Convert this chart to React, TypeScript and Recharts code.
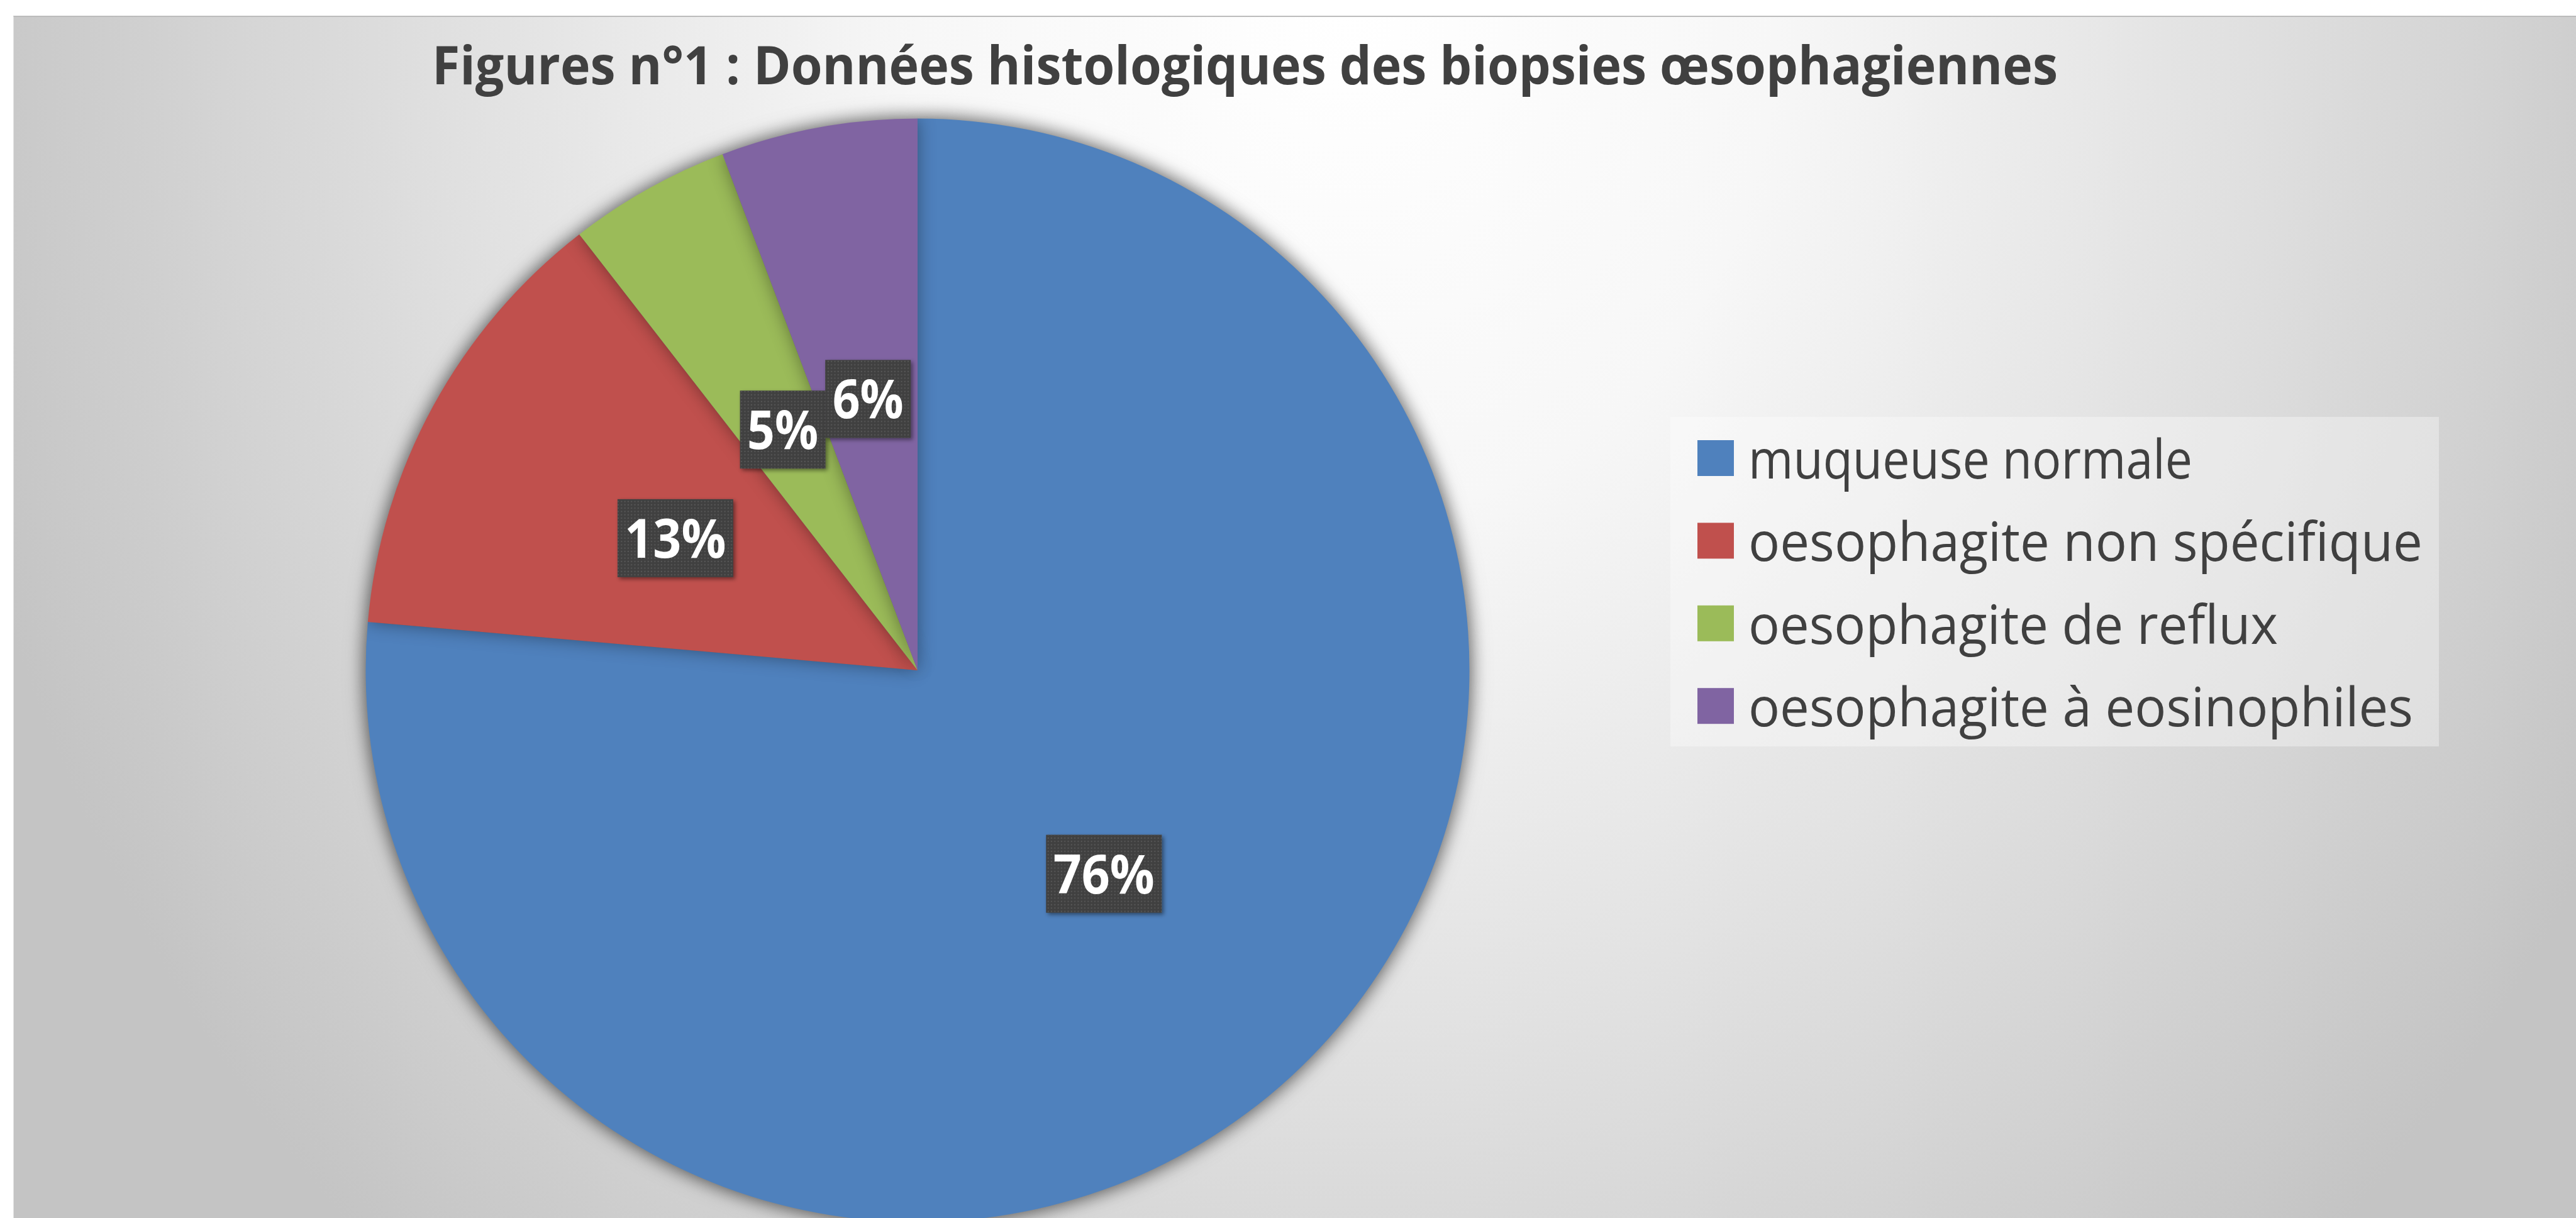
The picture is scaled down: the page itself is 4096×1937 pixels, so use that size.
import React from 'react';
import { PieChart, Pie, Cell, Legend } from 'recharts';

const title = 'Figures n°1 : Données histologiques des biopsies œsophagiennes';
const categories = [
  'muqueuse normale',
  'oesophagite non spécifique',
  'oesophagite de reflux',
  'oesophagite à eosinophiles',
];
const values = [76.4, 13.1, 4.75, 5.75];
const colors = ['#4F81BD', '#C0504D', '#9BBB59', '#8064A2'];
const legendTextWidths = [706, 1072, 842, 1057];

const data = categories.map((name, i) => ({ name, value: values[i] }));

const RAD = Math.PI / 180;
const FONT = "'Open Sans', 'Noto Sans', sans-serif";

function renderLabel(props: any) {
  const { cx, cy, midAngle, outerRadius, percent, index } = props;
  const r = outerRadius * 0.5;
  const x = cx + r * Math.cos(-midAngle * RAD);
  const y = cy + r * Math.sin(-midAngle * RAD);
  const text = `${Math.round(percent * 100)}%`;
  const wide = text.length > 2;
  const w = wide ? 184 : 136;
  const h = 124;
  const tl = wide ? 161 : 113;
  return (
    <g key={`lbl-${index}`}>
      <rect x={x - w / 2} y={y - h / 2} width={w} height={h} fill="#404040" filter="url(#lblShadow)" />
      <rect x={x - w / 2} y={y - h / 2} width={w} height={h} fill="url(#dots)" />
      <text
        x={x}
        y={y + 31}
        textAnchor="middle"
        textLength={tl}
        lengthAdjust="spacingAndGlyphs"
        fill="#ffffff"
        fontFamily={FONT}
        fontWeight={700}
        fontSize={86}
      >
        {text}
      </text>
    </g>
  );
}

const LEG_W = 1222;
const LEG_H = 524;
const LEG_SVG_W = 1420;

function renderLegend(props: any) {
  const payload = props.payload || [];
  return (
    <svg width={LEG_SVG_W} height={LEG_H} style={{ display: 'block', overflow: 'visible' }}>
      <rect x={0} y={0} width={LEG_W} height={LEG_H} fill="rgba(255,255,255,0.35)" />
      {payload.map((entry: any, i: number) => {
        const idx = categories.indexOf(entry.value);
        const k = idx >= 0 ? idx : i;
        return (
          <g key={`leg-${i}`}>
            <rect x={43} y={37 + k * 131.4} width={58} height={57} fill={colors[k]} />
            <text
              x={124}
              y={97.8 + k * 131.4}
              textLength={legendTextWidths[k]}
              lengthAdjust="spacingAndGlyphs"
              fill="#404040"
              fontFamily={FONT}
              fontSize={86}
            >
              {entry.value}
            </text>
          </g>
        );
      })}
    </svg>
  );
}

export default function App() {
  return (
    <div
      style={{
        position: 'absolute',
        left: 0,
        top: 0,
        width: 4096,
        height: 1937,
        overflow: 'hidden',
        background: '#ffffff',
      }}
    >
      <style>{`.mainpie { filter: drop-shadow(0px 0px 14px rgba(0,0,0,0.38)); }`}</style>
      <svg width={0} height={0} style={{ position: 'absolute' }}>
        <defs>
          <pattern id="dots" x={0} y={0} width={5.3} height={5.3} patternUnits="userSpaceOnUse">
            <rect x={1.5} y={1.5} width={2} height={2} fill="#585858" />
          </pattern>
          <filter id="lblShadow" x="-20%" y="-20%" width="140%" height="140%">
            <feDropShadow dx={3} dy={3} stdDeviation={3} floodColor="#000000" floodOpacity={0.45} />
          </filter>
        </defs>
      </svg>
      <div
        style={{
          position: 'absolute',
          left: 21,
          top: 25,
          width: 4075,
          height: 1912,
          boxSizing: 'border-box',
          borderTop: '2px solid #bcbcbc',
          borderLeft: '1px solid #e2e2e2',
          background:
            'radial-gradient(56% 140% at 52% 0%, #ffffff 0%, #f7f7f7 30%, #e2e2e2 60%, #cfcfcf 85%, #c4c4c4 100%)',
        }}
      />
      <div style={{ position: 'absolute', left: 0, top: 0 }}>
        <PieChart width={4096} height={1937} margin={{ top: 0, right: 0, bottom: 0, left: 0 }}>
          <Pie
            className="mainpie"
            data={data}
            dataKey="value"
            nameKey="name"
            cx={1459}
            cy={1066}
            outerRadius={877.5}
            startAngle={90}
            endAngle={-270}
            stroke="none"
            label={renderLabel}
            labelLine={false}
            isAnimationActive={false}
          >
            {data.map((d, i) => (
              <Cell key={`c-${i}`} fill={colors[i]} stroke="none" />
            ))}
          </Pie>
          <Legend
            layout="vertical"
            align="right"
            verticalAlign="middle"
            content={renderLegend}
            wrapperStyle={{ left: 2656, top: 663, width: LEG_SVG_W, height: LEG_H }}
          />
        </PieChart>
      </div>
      <svg width={4096} height={220} style={{ position: 'absolute', left: 0, top: 0 }}>
        <text
          x={687}
          y={134}
          textLength={2585}
          lengthAdjust="spacingAndGlyphs"
          fill="#404040"
          fontFamily={FONT}
          fontWeight={700}
          fontSize={85}
        >
          {title}
        </text>
      </svg>
    </div>
  );
}
